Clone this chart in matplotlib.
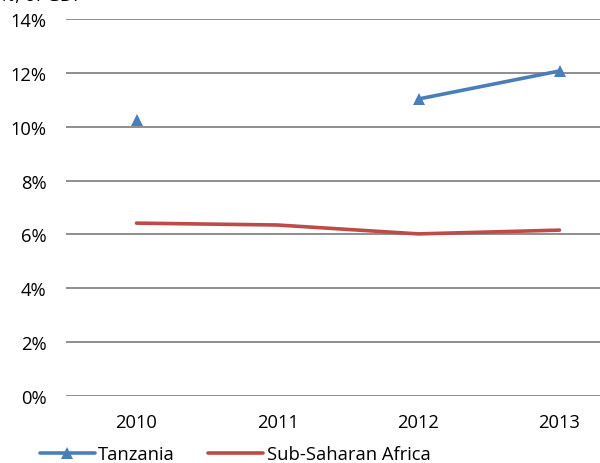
import numpy as np
import matplotlib
matplotlib.use("Agg")
import matplotlib.pyplot as plt

years = ["2010", "2011", "2012", "2013"]
tanzania = [10.25, np.nan, 11.03, 12.07]
ssa = [6.42, 6.35, 6.02, 6.16]
y_ticks = [0, 2, 4, 6, 8, 10, 12, 14]
y_tick_labels = [f"{v}%" for v in y_ticks]

plt.rcParams["font.family"] = ["Open Sans", "DejaVu Sans"]
FS = 13.2

fig = plt.figure(figsize=(6.0, 4.64), dpi=100)
ax = fig.add_axes([66 / 600, 1 - 397 / 464, 564 / 600, 377 / 464])

x = np.arange(len(years))
ax.plot(x, tanzania, color="#4A7EBB", lw=2.6, marker="^", ms=9,
        markeredgewidth=0, label="Tanzania", solid_capstyle="round", zorder=3)
ax.plot(x, ssa, color="#BE4B48", lw=2.6, label="Sub-Saharan Africa",
        solid_capstyle="round", zorder=3)

ax.set_xlim(-0.5, 3.5)
ax.set_ylim(0, 14)
ax.set_yticks(y_ticks)
ax.set_yticklabels(y_tick_labels)
ax.set_xticks(x)
ax.set_xticklabels(years)
ax.yaxis.grid(True, color="#868686", lw=1.3)
ax.set_axisbelow(True)
for s in ax.spines.values():
    s.set_visible(False)
ax.tick_params(length=0, labelsize=FS, colors="#000000")
ax.tick_params(axis="y", pad=14)
ax.tick_params(axis="x", pad=12)

fig.text(0.0, 1.0 - 1.0 / 464, "%, of GDP", fontsize=FS, ha="left", va="baseline")

fig.legend(loc="lower left", bbox_to_anchor=(36 / 600, -4 / 464), ncol=2, frameon=False,
           fontsize=FS, handlelength=3.0, handletextpad=0.2, columnspacing=1.8,
           borderaxespad=0, borderpad=0.2)

fig.savefig("out.png", dpi=100)
